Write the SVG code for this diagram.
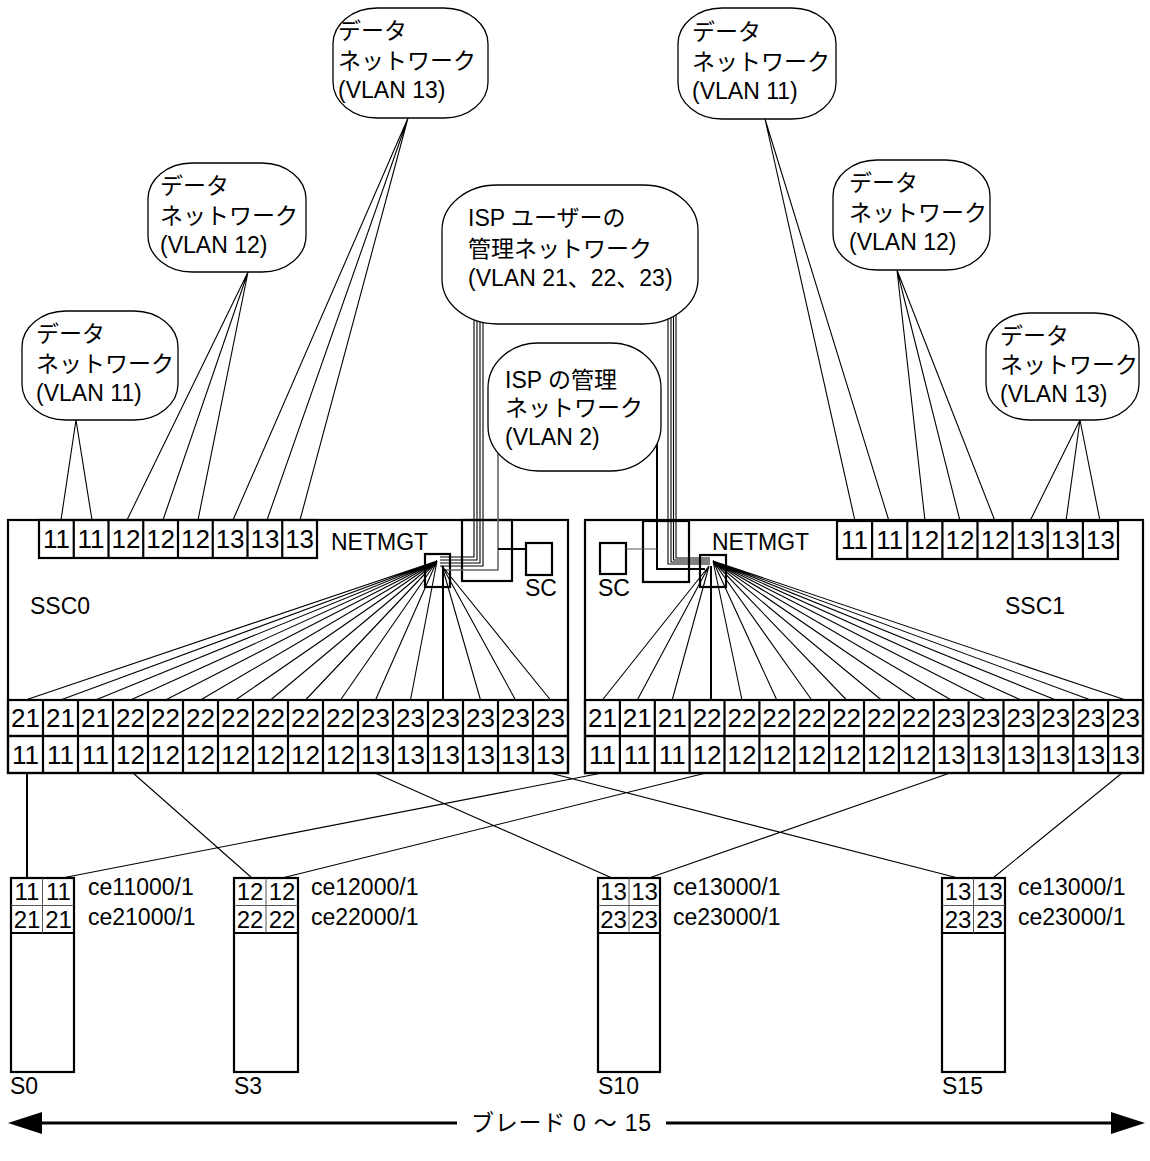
<svg xmlns="http://www.w3.org/2000/svg" width="1150" height="1161" viewBox="0 0 1150 1161">
<style>
.t{font-family:"Liberation Sans","Noto Sans CJK JP",sans-serif;font-size:23px;fill:#000}
.p{font-family:"Liberation Sans",sans-serif;font-size:26px;fill:#000;text-anchor:middle}
.bp{font-family:"Liberation Sans",sans-serif;font-size:24px;fill:#000;text-anchor:middle}
.box{fill:#fff;stroke:#000;stroke-width:2.2}
.fr{fill:none;stroke:#000;stroke-width:2.2}
.thin{fill:none;stroke:#555;stroke-width:1}
.cloud{fill:#fff;stroke:#000;stroke-width:1.3}
.ln{fill:none;stroke:#000;stroke-width:1.1}
.lnb{fill:none;stroke:#000;stroke-width:2}
.gr{fill:none;stroke:#666;stroke-width:1.6}
</style>
<rect width="1150" height="1161" fill="#fff"/>

<g id="ssc0">
<rect class="box" x="8" y="520" width="560" height="253"/>
<text class="t" x="30" y="614">SSC0</text>
<text class="t" x="331" y="550">NETMGT</text>
<rect class="fr" x="462" y="520" width="50" height="61"/>
<rect class="fr" x="526" y="543" width="26" height="32"/>
<text class="t" x="525" y="596">SC</text>
<rect class="fr" x="425" y="554" width="25" height="33"/>
<rect class="fr" x="39" y="520" width="278" height="38"/>
<path class="fr" d="M73.75,520V558M108.5,520V558M143.25,520V558M178,520V558M212.75,520V558M247.5,520V558M282.25,520V558"/>
<text class="p" y="548"><tspan x="56.4">11</tspan><tspan x="91.1">11</tspan><tspan x="125.9">12</tspan><tspan x="160.6">12</tspan><tspan x="195.4">12</tspan><tspan x="230.1">13</tspan><tspan x="264.9">13</tspan><tspan x="299.6">13</tspan></text>
<rect class="fr" x="8" y="700" width="560" height="36"/>
<rect class="fr" x="8" y="736" width="560" height="37"/>
<path class="fr" d="M43,700V773M78,700V773M113,700V773M148,700V773M183,700V773M218,700V773M253,700V773M288,700V773M323,700V773M358,700V773M393,700V773M428,700V773M463,700V773M498,700V773M533,700V773"/>
<text class="p" y="727"><tspan x="25.5">21</tspan><tspan x="60.5">21</tspan><tspan x="95.5">21</tspan><tspan x="130.5">22</tspan><tspan x="165.5">22</tspan><tspan x="200.5">22</tspan><tspan x="235.5">22</tspan><tspan x="270.5">22</tspan><tspan x="305.5">22</tspan><tspan x="340.5">22</tspan><tspan x="375.5">23</tspan><tspan x="410.5">23</tspan><tspan x="445.5">23</tspan><tspan x="480.5">23</tspan><tspan x="515.5">23</tspan><tspan x="550.5">23</tspan></text>
<text class="p" y="764"><tspan x="25.5">11</tspan><tspan x="60.5">11</tspan><tspan x="95.5">11</tspan><tspan x="130.5">12</tspan><tspan x="165.5">12</tspan><tspan x="200.5">12</tspan><tspan x="235.5">12</tspan><tspan x="270.5">12</tspan><tspan x="305.5">12</tspan><tspan x="340.5">12</tspan><tspan x="375.5">13</tspan><tspan x="410.5">13</tspan><tspan x="445.5">13</tspan><tspan x="480.5">13</tspan><tspan x="515.5">13</tspan><tspan x="550.5">13</tspan></text>
</g>

<g id="ssc1">
<rect class="box" x="585" y="520" width="558" height="253"/>
<text class="t" x="1005" y="614">SSC1</text>
<text class="t" x="712" y="550">NETMGT</text>
<rect class="fr" x="643" y="521" width="46" height="61"/>
<rect class="fr" x="600" y="543" width="26" height="31"/>
<text class="t" x="598" y="596">SC</text>
<rect class="fr" x="700" y="555" width="26" height="32"/>
<rect class="fr" x="837" y="521" width="281" height="38"/>
<path class="fr" d="M872.1,521V559M907.25,521V559M942.4,521V559M977.5,521V559M1012.6,521V559M1047.75,521V559M1082.9,521V559"/>
<text class="p" y="549"><tspan x="854.6">11</tspan><tspan x="889.7">11</tspan><tspan x="924.8">12</tspan><tspan x="959.9">12</tspan><tspan x="995.1">12</tspan><tspan x="1030.2">13</tspan><tspan x="1065.3">13</tspan><tspan x="1100.4">13</tspan></text>
<rect class="fr" x="585" y="700" width="558" height="36"/>
<rect class="fr" x="585" y="736" width="558" height="37"/>
<path class="fr" d="M619.9,700V773M654.8,700V773M689.6,700V773M724.5,700V773M759.4,700V773M794.3,700V773M829.1,700V773M864,700V773M898.9,700V773M933.8,700V773M968.6,700V773M1003.5,700V773M1038.4,700V773M1073.3,700V773M1108.1,700V773"/>
<text class="p" y="727"><tspan x="602.4">21</tspan><tspan x="637.3">21</tspan><tspan x="672.2">21</tspan><tspan x="707.1">22</tspan><tspan x="742">22</tspan><tspan x="776.8">22</tspan><tspan x="811.7">22</tspan><tspan x="846.6">22</tspan><tspan x="881.4">22</tspan><tspan x="916.3">22</tspan><tspan x="951.2">23</tspan><tspan x="986.1">23</tspan><tspan x="1021">23</tspan><tspan x="1055.8">23</tspan><tspan x="1090.7">23</tspan><tspan x="1125.6">23</tspan></text>
<text class="p" y="764"><tspan x="602.4">11</tspan><tspan x="637.3">11</tspan><tspan x="672.2">11</tspan><tspan x="707.1">12</tspan><tspan x="742">12</tspan><tspan x="776.8">12</tspan><tspan x="811.7">12</tspan><tspan x="846.6">12</tspan><tspan x="881.4">12</tspan><tspan x="916.3">12</tspan><tspan x="951.2">13</tspan><tspan x="986.1">13</tspan><tspan x="1021">13</tspan><tspan x="1055.8">13</tspan><tspan x="1090.7">13</tspan><tspan x="1125.6">13</tspan></text>
</g>

<g id="connectors">
<path class="ln" d="M76,420L61,520M76,420L92,520"/>
<path class="ln" d="M248,272L127,520M248,272L163,520M248,272L198,520"/>
<path class="ln" d="M408,118L233,520M408,118L267,520M408,118L300,520"/>
<path class="ln" d="M765,119L855,521M765,119L889,521"/>
<path class="ln" d="M897,270L925,521M897,270L960,521M897,270L995,521"/>
<path class="ln" d="M1080,420L1030,521M1080,420L1066,521M1080,420L1100,521"/>
<path class="ln" d="M474,315V557H440M477,315V560H440M480,315V563H440M483,315V566H440"/>
<path class="ln" d="M668,310V564H710M671,310V562H710M673.5,310V560H710M676,310V558H710"/>
<path class="gr" d="M498,445V570H445"/>
<path class="lnb" d="M498,549H526"/>
<path class="lnb" d="M657,435V569H705"/>
<path class="thin" d="M626,549H657"/>
<path class="ln" d="M437,561L25.5,700M437,561L60.5,700M437,561L95.5,700M437,561L130.5,700M437,561L165.5,700M437,561L200.5,700M437,561L235.5,700M437,561L270.5,700M437,561L305.5,700M437,561L340.5,700M437,561L375.5,700M437,561L410.5,700M442,566L480.5,700M442,566L515.5,700M442,566L550.5,700"/>
<path class="lnb" d="M443,566V700"/>
<path class="ln" d="M709,566L602.4,700M709,566L637.3,700M709,566L672.2,700M713,561L742,700M713,561L776.8,700M713,561L811.7,700M713,561L846.6,700M713,561L881.4,700M713,561L916.3,700M713,561L951.2,700M713,561L986.1,700M713,561L1021,700M713,561L1055.8,700M713,561L1090.7,700M713,561L1125.6,700"/>
<path class="lnb" d="M711,566V700"/>
<path class="lnb" d="M27,773V878"/>
<path class="ln" d="M133,773L252,878M375,773L612,878M550,773L958,878M602,773L62,878M706,773L282,878M950,773L649,878M1122,773L993,878"/>
<path d="M40,1123H457M666,1123H1113" stroke="#000" stroke-width="3" fill="none"/>
<polygon points="8,1123 42,1112 42,1134" fill="#000"/>
<polygon points="1145,1123 1111,1112 1111,1134" fill="#000"/>
</g>

<g id="cloud-l13">
<rect class="cloud" x="333" y="8" width="155" height="110" rx="44" ry="36"/>
<text class="t"><tspan x="338" y="39">データ</tspan><tspan x="338" y="69">ネットワーク</tspan><tspan x="338" y="98">(VLAN 13)</tspan></text>
</g>
<g id="cloud-l12">
<rect class="cloud" x="148" y="163" width="158" height="109" rx="44" ry="36"/>
<text class="t"><tspan x="160" y="194">データ</tspan><tspan x="160" y="224">ネットワーク</tspan><tspan x="160" y="253">(VLAN 12)</tspan></text>
</g>
<g id="cloud-l11">
<rect class="cloud" x="22" y="311" width="156" height="109" rx="44" ry="36"/>
<text class="t"><tspan x="36" y="342">データ</tspan><tspan x="36" y="372">ネットワーク</tspan><tspan x="36" y="401">(VLAN 11)</tspan></text>
</g>
<g id="cloud-r11">
<rect class="cloud" x="678" y="8" width="158" height="111" rx="44" ry="36"/>
<text class="t"><tspan x="692" y="40">データ</tspan><tspan x="692" y="70">ネットワーク</tspan><tspan x="692" y="99">(VLAN 11)</tspan></text>
</g>
<g id="cloud-r12">
<rect class="cloud" x="833" y="160" width="157" height="110" rx="44" ry="36"/>
<text class="t"><tspan x="849" y="191">データ</tspan><tspan x="849" y="221">ネットワーク</tspan><tspan x="849" y="250">(VLAN 12)</tspan></text>
</g>
<g id="cloud-r13">
<rect class="cloud" x="986" y="313" width="153" height="107" rx="44" ry="36"/>
<text class="t"><tspan x="1000" y="344">データ</tspan><tspan x="1000" y="373">ネットワーク</tspan><tspan x="1000" y="402">(VLAN 13)</tspan></text>
</g>
<g id="cloud-isp-user">
<rect class="cloud" x="442" y="185" width="256" height="139" rx="55" ry="45"/>
<text class="t"><tspan x="468" y="226">ISP ユーザーの</tspan><tspan x="468" y="257">管理ネットワーク</tspan><tspan x="468" y="286">(VLAN 21、22、23)</tspan></text>
</g>
<g id="cloud-isp">
<rect class="cloud" x="488" y="343" width="173" height="128" rx="50" ry="45"/>
<text class="t"><tspan x="505" y="388">ISP の管理</tspan><tspan x="505" y="416">ネットワーク</tspan><tspan x="505" y="445">(VLAN 2)</tspan></text>
</g>

<g id="blade-s0">
<rect class="fr" x="11" y="878" width="63" height="194"/>
<path class="fr" d="M11,933H74"/>
<path class="thin" d="M11,905.5H74M42.5,878V933"/>
<text class="bp" y="900"><tspan x="27">11</tspan><tspan x="58.5">11</tspan></text>
<text class="bp" y="928"><tspan x="27">21</tspan><tspan x="58.5">21</tspan></text>
<text class="t" x="88" y="895">ce11000/1</text>
<text class="t" x="88" y="925">ce21000/1</text>
<text class="t" x="10" y="1094">S0</text>
</g>
<g id="blade-s3">
<rect class="fr" x="234" y="878" width="64" height="194"/>
<path class="fr" d="M234,933H298"/>
<path class="thin" d="M234,905.5H298M266,878V933"/>
<text class="bp" y="900"><tspan x="250">12</tspan><tspan x="282">12</tspan></text>
<text class="bp" y="928"><tspan x="250">22</tspan><tspan x="282">22</tspan></text>
<text class="t" x="311" y="895">ce12000/1</text>
<text class="t" x="311" y="925">ce22000/1</text>
<text class="t" x="234" y="1094">S3</text>
</g>
<g id="blade-s10">
<rect class="fr" x="598" y="878" width="62" height="194"/>
<path class="fr" d="M598,933H660"/>
<path class="thin" d="M598,905.5H660M629,878V933"/>
<text class="bp" y="900"><tspan x="613.5">13</tspan><tspan x="644.5">13</tspan></text>
<text class="bp" y="928"><tspan x="613.5">23</tspan><tspan x="644.5">23</tspan></text>
<text class="t" x="673" y="895">ce13000/1</text>
<text class="t" x="673" y="925">ce23000/1</text>
<text class="t" x="598" y="1094">S10</text>
</g>
<g id="blade-s15">
<rect class="fr" x="942" y="878" width="63" height="194"/>
<path class="fr" d="M942,933H1005"/>
<path class="thin" d="M942,905.5H1005M973.5,878V933"/>
<text class="bp" y="900"><tspan x="958">13</tspan><tspan x="989.5">13</tspan></text>
<text class="bp" y="928"><tspan x="958">23</tspan><tspan x="989.5">23</tspan></text>
<text class="t" x="1018" y="895">ce13000/1</text>
<text class="t" x="1018" y="925">ce23000/1</text>
<text class="t" x="942" y="1094">S15</text>
</g>

<g id="blade-range">
<text class="t" x="471" y="1131" textLength="180" lengthAdjust="spacing">ブレード 0 ～ 15</text>
</g>
</svg>
